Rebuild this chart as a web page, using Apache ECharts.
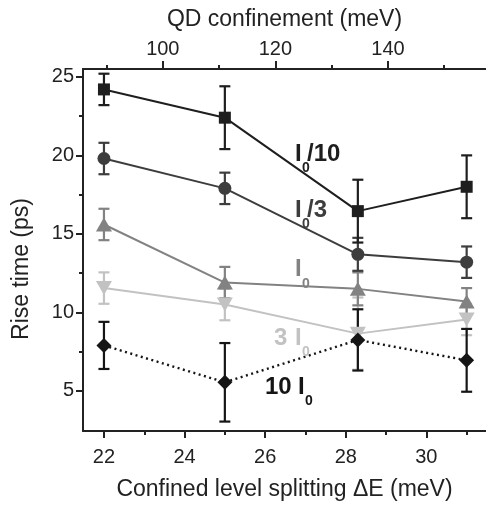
<!DOCTYPE html>
<html>
<head>
<meta charset="utf-8">
<script src="https://cdn.jsdelivr.net/npm/echarts@6/dist/echarts.min.js"></script>
<style>
  html, body { margin: 0; padding: 0; background: #fff; }
  #chart { width: 486px; height: 506px; }
</style>
</head>
<body>
<div id="chart"></div>
<script>
// Confined level splitting ΔE (meV) of each sample
const deltaE = [22, 25, 28.3, 31];

// Rise times (ps) and their error bars for each excitation intensity
const riseI0div10 = [24.2, 22.4, 16.45, 18.0];
const errI0div10  = [1.0, 2.0, 2.0, 2.0];
const riseI0div3  = [19.8, 17.9, 13.7, 13.2];
const errI0div3   = [1.0, 1.0, 1.05, 1.0];
const riseI0      = [15.6, 11.9, 11.5, 10.7];
const errI0       = [1.0, 1.0, 1.05, 0.85];
const rise3I0     = [11.55, 10.5, 8.65, 9.55];
const err3I0      = [1.0, 1.0, 2.3, 1.0];
const rise10I0    = [7.9, 5.55, 8.25, 6.95];
const err10I0     = [1.5, 2.5, 1.95, 2.0];

// Tick labels
const bottomTicks = [22, 24, 26, 28, 30];
const bottomMinor = [23, 25, 27, 29, 31];
const topTicks    = [100, 120, 140];
const topMinor    = [90, 110, 130, 150];
const leftTicks   = [5, 10, 15, 20, 25];
const leftMinor   = [7.5, 12.5, 17.5, 22.5];

const FONT = 'Liberation Sans, Arial, sans-serif';
const AXIS = '#222';

const chart = echarts.init(document.getElementById('chart'), null, { renderer: 'canvas' });

function pairs(ys) { return deltaE.map((x, i) => [x, ys[i]]); }
function triples(ys, es) { return deltaE.map((x, i) => [x, ys[i], es[i]]); }

function errorBars(name, ys, es, color) {
  return {
    type: 'custom',
    name: name + ' err',
    xAxisIndex: 0, yAxisIndex: 0,
    z: 1,
    silent: true,
    data: triples(ys, es),
    renderItem: function (params, api) {
      const x = api.value(0), y = api.value(1), e = api.value(2);
      const top = api.coord([x, y + e]);
      const bot = api.coord([x, y - e]);
      const hw = 5.5;
      const style = { stroke: color, lineWidth: 2.2 };
      return {
        type: 'group',
        children: [
          { type: 'line', shape: { x1: top[0], y1: top[1], x2: bot[0], y2: bot[1] }, style: style },
          { type: 'line', shape: { x1: top[0] - hw, y1: top[1], x2: top[0] + hw, y2: top[1] }, style: style },
          { type: 'line', shape: { x1: bot[0] - hw, y1: bot[1], x2: bot[0] + hw, y2: bot[1] }, style: style }
        ]
      };
    }
  };
}

function lineSeries(name, ys, color, symbol, size, extra) {
  return Object.assign({
    type: 'line',
    name: name,
    xAxisIndex: 0, yAxisIndex: 0,
    z: 3,
    data: pairs(ys),
    symbol: symbol,
    symbolSize: size,
    showAllSymbol: true,
    lineStyle: { color: color, width: 2 },
    itemStyle: { color: color, borderWidth: 0 },
    emphasis: { disabled: true },
    animation: false
  }, extra || {});
}

// Annotation: main text, subscript 0, optional trailing text
function annotation(parts, color) {
  return parts.map(p => ({
    type: 'text',
    x: p.x, y: p.y,
    z: 10,
    style: {
      text: p.t,
      font: 'bold ' + p.s + 'px ' + FONT,
      fill: color,
      verticalAlign: 'middle',
      align: 'left'
    }
  }));
}

const cI0div10 = '#1e1e1e';
const cI0div3  = '#3d3d3d';
const cI0      = '#828282';
const c3I0     = '#c2c2c2';
const c10I0    = '#151515';

const option = {
  animation: false,
  backgroundColor: '#fff',
  textStyle: { fontFamily: FONT },
  grid: { left: 83, top: 69, width: 404, height: 369, containLabel: false },
  xAxis: [
    {
      type: 'value', position: 'bottom', min: 21.48, max: 31.48,
      name: 'Confined level splitting ΔE (meV)', nameLocation: 'middle', nameGap: 47,
      nameTextStyle: { fontSize: 23, color: AXIS, fontFamily: FONT },
      axisLine: { show: true, onZero: false, lineStyle: { color: AXIS, width: 2 } },
      axisTick: { show: true, length: 7, customValues: bottomTicks, lineStyle: { color: AXIS, width: 2 } },
      axisLabel: { show: true, customValues: bottomTicks, fontSize: 20, color: AXIS, margin: 16, fontFamily: FONT },
      splitLine: { show: false }
    },
    {
      type: 'value', position: 'bottom', min: 21.48, max: 31.48,
      axisLine: { show: false, onZero: false },
      axisTick: { show: true, length: 4, customValues: bottomMinor, lineStyle: { color: AXIS, width: 2 } },
      axisLabel: { show: false },
      splitLine: { show: false }
    },
    {
      type: 'value', position: 'top', min: 85.82, max: 157.42,
      name: 'QD confinement (meV)', nameLocation: 'middle', nameGap: 38,
      nameTextStyle: { fontSize: 23, color: AXIS, fontFamily: FONT },
      axisLine: { show: true, onZero: false, lineStyle: { color: AXIS, width: 2 } },
      axisTick: { show: true, length: 8, customValues: topTicks, lineStyle: { color: AXIS, width: 2 } },
      axisLabel: { show: true, customValues: topTicks, fontSize: 20, color: AXIS, margin: 10, fontFamily: FONT },
      splitLine: { show: false }
    },
    {
      type: 'value', position: 'top', min: 85.82, max: 157.42,
      axisLine: { show: false, onZero: false },
      axisTick: { show: true, length: 4, customValues: topMinor, lineStyle: { color: AXIS, width: 2 } },
      axisLabel: { show: false },
      splitLine: { show: false }
    }
  ],
  yAxis: [
    {
      type: 'value', position: 'left', min: 2.45, max: 25.5,
      axisLine: { show: true, onZero: false, lineStyle: { color: AXIS, width: 2 } },
      axisTick: { show: true, length: 7, customValues: leftTicks, lineStyle: { color: AXIS, width: 2 } },
      axisLabel: { show: true, customValues: leftTicks, fontSize: 20, color: AXIS, margin: 9, fontFamily: FONT },
      splitLine: { show: false }
    },
    {
      type: 'value', position: 'left', min: 2.45, max: 25.5,
      axisLine: { show: false, onZero: false },
      axisTick: { show: true, length: 4, customValues: leftMinor, lineStyle: { color: AXIS, width: 2 } },
      axisLabel: { show: false },
      splitLine: { show: false }
    }
  ],
  series: [
    errorBars('3 I0', rise3I0, err3I0, c3I0),
    errorBars('I0', riseI0, errI0, cI0),
    errorBars('I0/3', riseI0div3, errI0div3, cI0div3),
    errorBars('I0/10', riseI0div10, errI0div10, cI0div10),
    errorBars('10 I0', rise10I0, err10I0, c10I0),
    lineSeries('3 I0', rise3I0, c3I0, 'triangle', [16, 14], { symbolRotate: 180 }),
    lineSeries('I0', riseI0, cI0, 'triangle', [16, 14]),
    lineSeries('I0/3', riseI0div3, cI0div3, 'circle', 13),
    lineSeries('I0/10', riseI0div10, cI0div10, 'rect', 12),
    lineSeries('10 I0', rise10I0, c10I0, 'diamond', 15, {
      lineStyle: { color: c10I0, width: 2.4, type: [2, 3.5] }
    })
  ],
  graphic: [].concat(
    [{
      // vertical axis title
      type: 'text',
      x: 22, y: 269,
      rotation: Math.PI / 2,
      style: {
        text: 'Rise time (ps)',
        font: '23px ' + FONT,
        fill: AXIS,
        align: 'center',
        verticalAlign: 'middle'
      }
    }],
    annotation([
      { t: 'I', x: 295, y: 154, s: 24 },
      { t: '0', x: 302, y: 168, s: 14 },
      { t: '/10', x: 307, y: 154, s: 24 }
    ], cI0div10),
    annotation([
      { t: 'I', x: 295, y: 210, s: 24 },
      { t: '0', x: 302, y: 224, s: 14 },
      { t: '/3', x: 307, y: 210, s: 24 }
    ], cI0div3),
    annotation([
      { t: 'I', x: 295, y: 269, s: 24 },
      { t: '0', x: 302, y: 284, s: 14 }
    ], cI0),
    annotation([
      { t: '3', x: 274, y: 338, s: 24 },
      { t: 'I', x: 295, y: 338, s: 24 },
      { t: '0', x: 302, y: 352, s: 14 }
    ], c3I0),
    annotation([
      { t: '10', x: 265, y: 387, s: 24 },
      { t: 'I', x: 298, y: 387, s: 24 },
      { t: '0', x: 305, y: 401, s: 14 }
    ], c10I0)
  )
};

chart.setOption(option);
</script>
</body>
</html>
